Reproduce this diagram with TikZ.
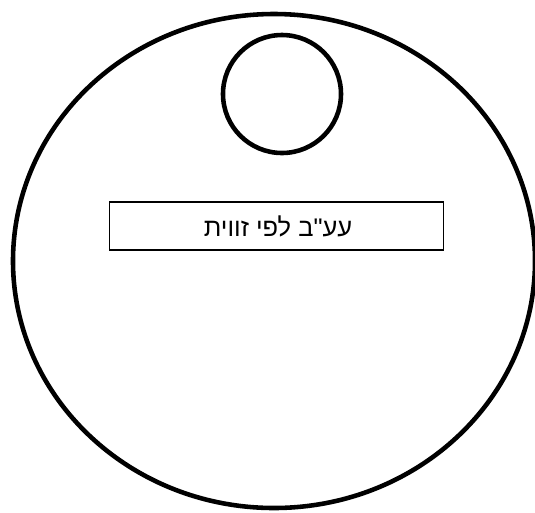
\documentclass[tikz,border=0pt]{standalone}
\usepackage{fontspec}
\newfontfamily\hebfont[Script=Hebrew]{Liberation Sans}
\TeXXeTstate=1

\begin{document}
\begin{tikzpicture}[x=0.02cm, y=-0.02cm, every node/.style={font=\hebfont\fontsize{14.5}{16}\selectfont}]
  \useasboundingbox (0,0) rectangle (535,512);
  \coordinate (body) at (274,261);
  \coordinate (eye) at (282,94);
  \draw[line width=2.6pt] (body) ellipse [x radius=261, y radius=247];
  \draw[line width=2.6pt] (eye) circle [radius=59];
  \node[draw, line width=0.6pt, minimum width=6.7cm, minimum height=0.96cm] (label) at (276.5,226) {};
  \node (text) at (278,226) {\beginR עע"ב לפי זווית\endR};
\end{tikzpicture}
\end{document}
